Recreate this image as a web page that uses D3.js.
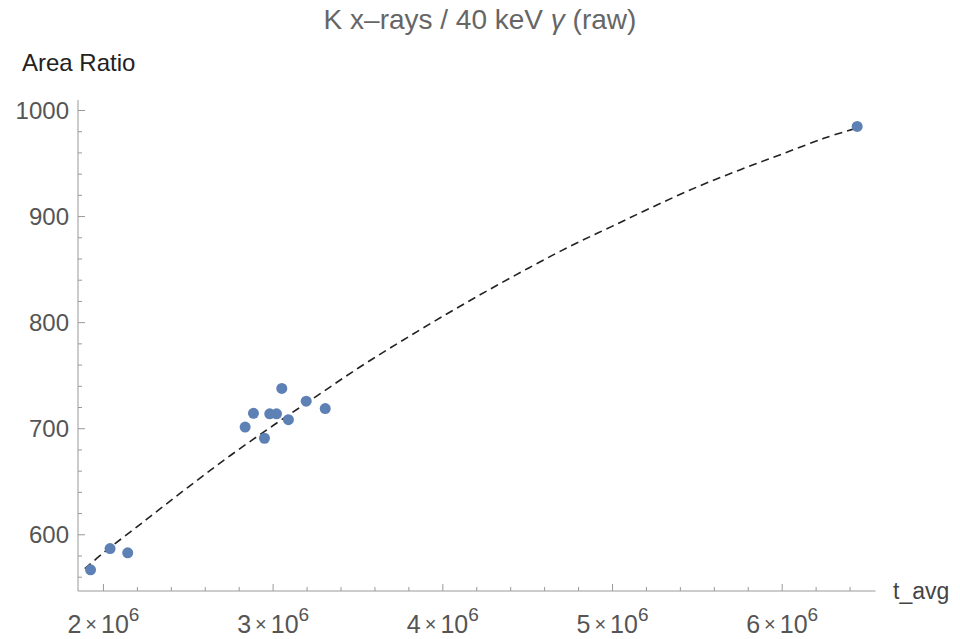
<!DOCTYPE html>
<html>
<head>
<meta charset="utf-8">
<script src="https://cdn.jsdelivr.net/npm/d3@7"></script>
<style>
  body { margin: 0; background: #fff; }
  text { font-family: "Liberation Sans", Arial, sans-serif; }
</style>
</head>
<body>
<div id="chart"></div>
<script>
// data
var tAvg = [1.924e6, 2.039e6, 2.143e6, 2.835e6, 2.884e6, 2.949e6, 2.98e6, 3.02e6, 3.051e6, 3.09e6, 3.195e6, 3.307e6, 6.442e6];
var areaRatio = [567, 587, 583, 701.5, 714.5, 691, 714, 714, 738, 708.5, 726, 719, 985];

// dashed fit curve
var fitT = [1.89e6, 2.0e6, 2.25e6, 2.5e6, 2.75e6, 3.0e6, 3.25e6, 3.5e6, 3.75e6, 4.0e6, 4.25e6, 4.5e6, 4.75e6, 5.0e6, 5.25e6, 5.5e6, 5.75e6, 6.0e6, 6.25e6, 6.43e6];
var fitV = [568, 583, 614, 645, 675, 703, 730, 757, 782, 806, 829, 851, 872, 891, 910, 928, 944, 959, 974, 983];

var xMajor = [2e6, 3e6, 4e6, 5e6, 6e6];
var xMajorLabels = ["2", "3", "4", "5", "6"];
var yMajor = [600, 700, 800, 900, 1000];

var width = 960;
var height = 639;

var svg = d3.select("#chart")
      .append("svg")
      .attr("width", width)
      .attr("height", height);

var x = d3.scaleLinear().domain([1.85e6, 6.55e6]).range([78, 875.5]);
var y = d3.scaleLinear().domain([547, 1010]).range([591, 99.9]);

var axisColor = "#999";
var labelColor = "#555";

// minor ticks
var xMinor = d3.range(2.2e6, 6.5e6, 0.2e6).filter(function(v) { return Math.abs(v / 1e6 - Math.round(v / 1e6)) > 1e-6; });
var yMinor = d3.range(560, 1001, 20).filter(function(v) { return v % 100 != 0; });

var g = svg.append("g");

// x axis line
g.append("line")
  .attr("x1", x.range()[0]).attr("x2", x.range()[1])
  .attr("y1", y.range()[0]).attr("y2", y.range()[0])
  .style("stroke", axisColor).style("stroke-width", 1);

// y axis line
g.append("line")
  .attr("x1", x.range()[0]).attr("x2", x.range()[0])
  .attr("y1", y.range()[0]).attr("y2", y.range()[1])
  .style("stroke", axisColor).style("stroke-width", 1);

g.selectAll(".xmaj").data(xMajor).enter().append("line")
  .attr("x1", function(d) { return x(d); }).attr("x2", function(d) { return x(d); })
  .attr("y1", y.range()[0]).attr("y2", y.range()[0] - 7)
  .style("stroke", axisColor);

g.selectAll(".xmin").data(xMinor).enter().append("line")
  .attr("x1", function(d) { return x(d); }).attr("x2", function(d) { return x(d); })
  .attr("y1", y.range()[0]).attr("y2", y.range()[0] - 4)
  .style("stroke", axisColor);

g.selectAll(".ymaj").data(yMajor).enter().append("line")
  .attr("x1", x.range()[0]).attr("x2", x.range()[0] + 7)
  .attr("y1", function(d) { return y(d); }).attr("y2", function(d) { return y(d); })
  .style("stroke", axisColor);

g.selectAll(".ymin").data(yMinor).enter().append("line")
  .attr("x1", x.range()[0]).attr("x2", x.range()[0] + 4)
  .attr("y1", function(d) { return y(d); }).attr("y2", function(d) { return y(d); })
  .style("stroke", axisColor);

// y tick labels
g.selectAll(".ylab").data(yMajor).enter().append("text")
  .attr("x", x.range()[0] - 9)
  .attr("y", function(d) { return y(d); })
  .attr("dy", "0.36em")
  .attr("text-anchor", "end")
  .style("font-size", "24px")
  .style("fill", labelColor)
  .text(function(d) { return d; });

// x tick labels like 2 × 10^6
var xl = g.selectAll(".xlab").data(xMajor).enter().append("text")
  .attr("x", function(d) { return x(d); })
  .attr("y", 633)
  .attr("text-anchor", "middle")
  .style("font-size", "25px")
  .style("fill", labelColor);
xl.append("tspan").text(function(d, i) { return xMajorLabels[i]; });
xl.append("tspan").style("font-size", "20px").attr("dx", 4).attr("dy", -2).text("\u00d7");
xl.append("tspan").attr("dx", 4).attr("dy", 2).text("10");
xl.append("tspan").attr("dy", -12).style("font-size", "19px").text("6");

// fit curve
var line = d3.line()
  .x(function(d, i) { return x(fitT[i]); })
  .y(function(d) { return y(d); })
  .curve(d3.curveCatmullRom);

g.append("path")
  .datum(fitV)
  .attr("d", line)
  .attr("fill", "none")
  .style("stroke", "#222")
  .style("stroke-width", 1.6)
  .style("stroke-dasharray", "8,5");

// data points
g.selectAll(".dot").data(areaRatio).enter().append("circle")
  .attr("cx", function(d, i) { return x(tAvg[i]); })
  .attr("cy", function(d) { return y(d); })
  .attr("r", 5.5)
  .style("fill", "#5E81B5");

// labels
svg.append("text")
  .attr("x", 480).attr("y", 29)
  .attr("text-anchor", "middle")
  .style("font-size", "28px")
  .style("fill", "#666")
  .html("K x\u2013rays / 40 keV <tspan font-style='italic'>\u03b3</tspan> (raw)");

svg.append("text")
  .attr("x", 22).attr("y", 71)
  .style("font-size", "24px")
  .style("fill", "#222")
  .text("Area Ratio");

svg.append("text")
  .attr("x", 893).attr("y", 599)
  .style("font-size", "23px")
  .style("fill", "#444")
  .text("t_avg");
</script>
</body>
</html>
